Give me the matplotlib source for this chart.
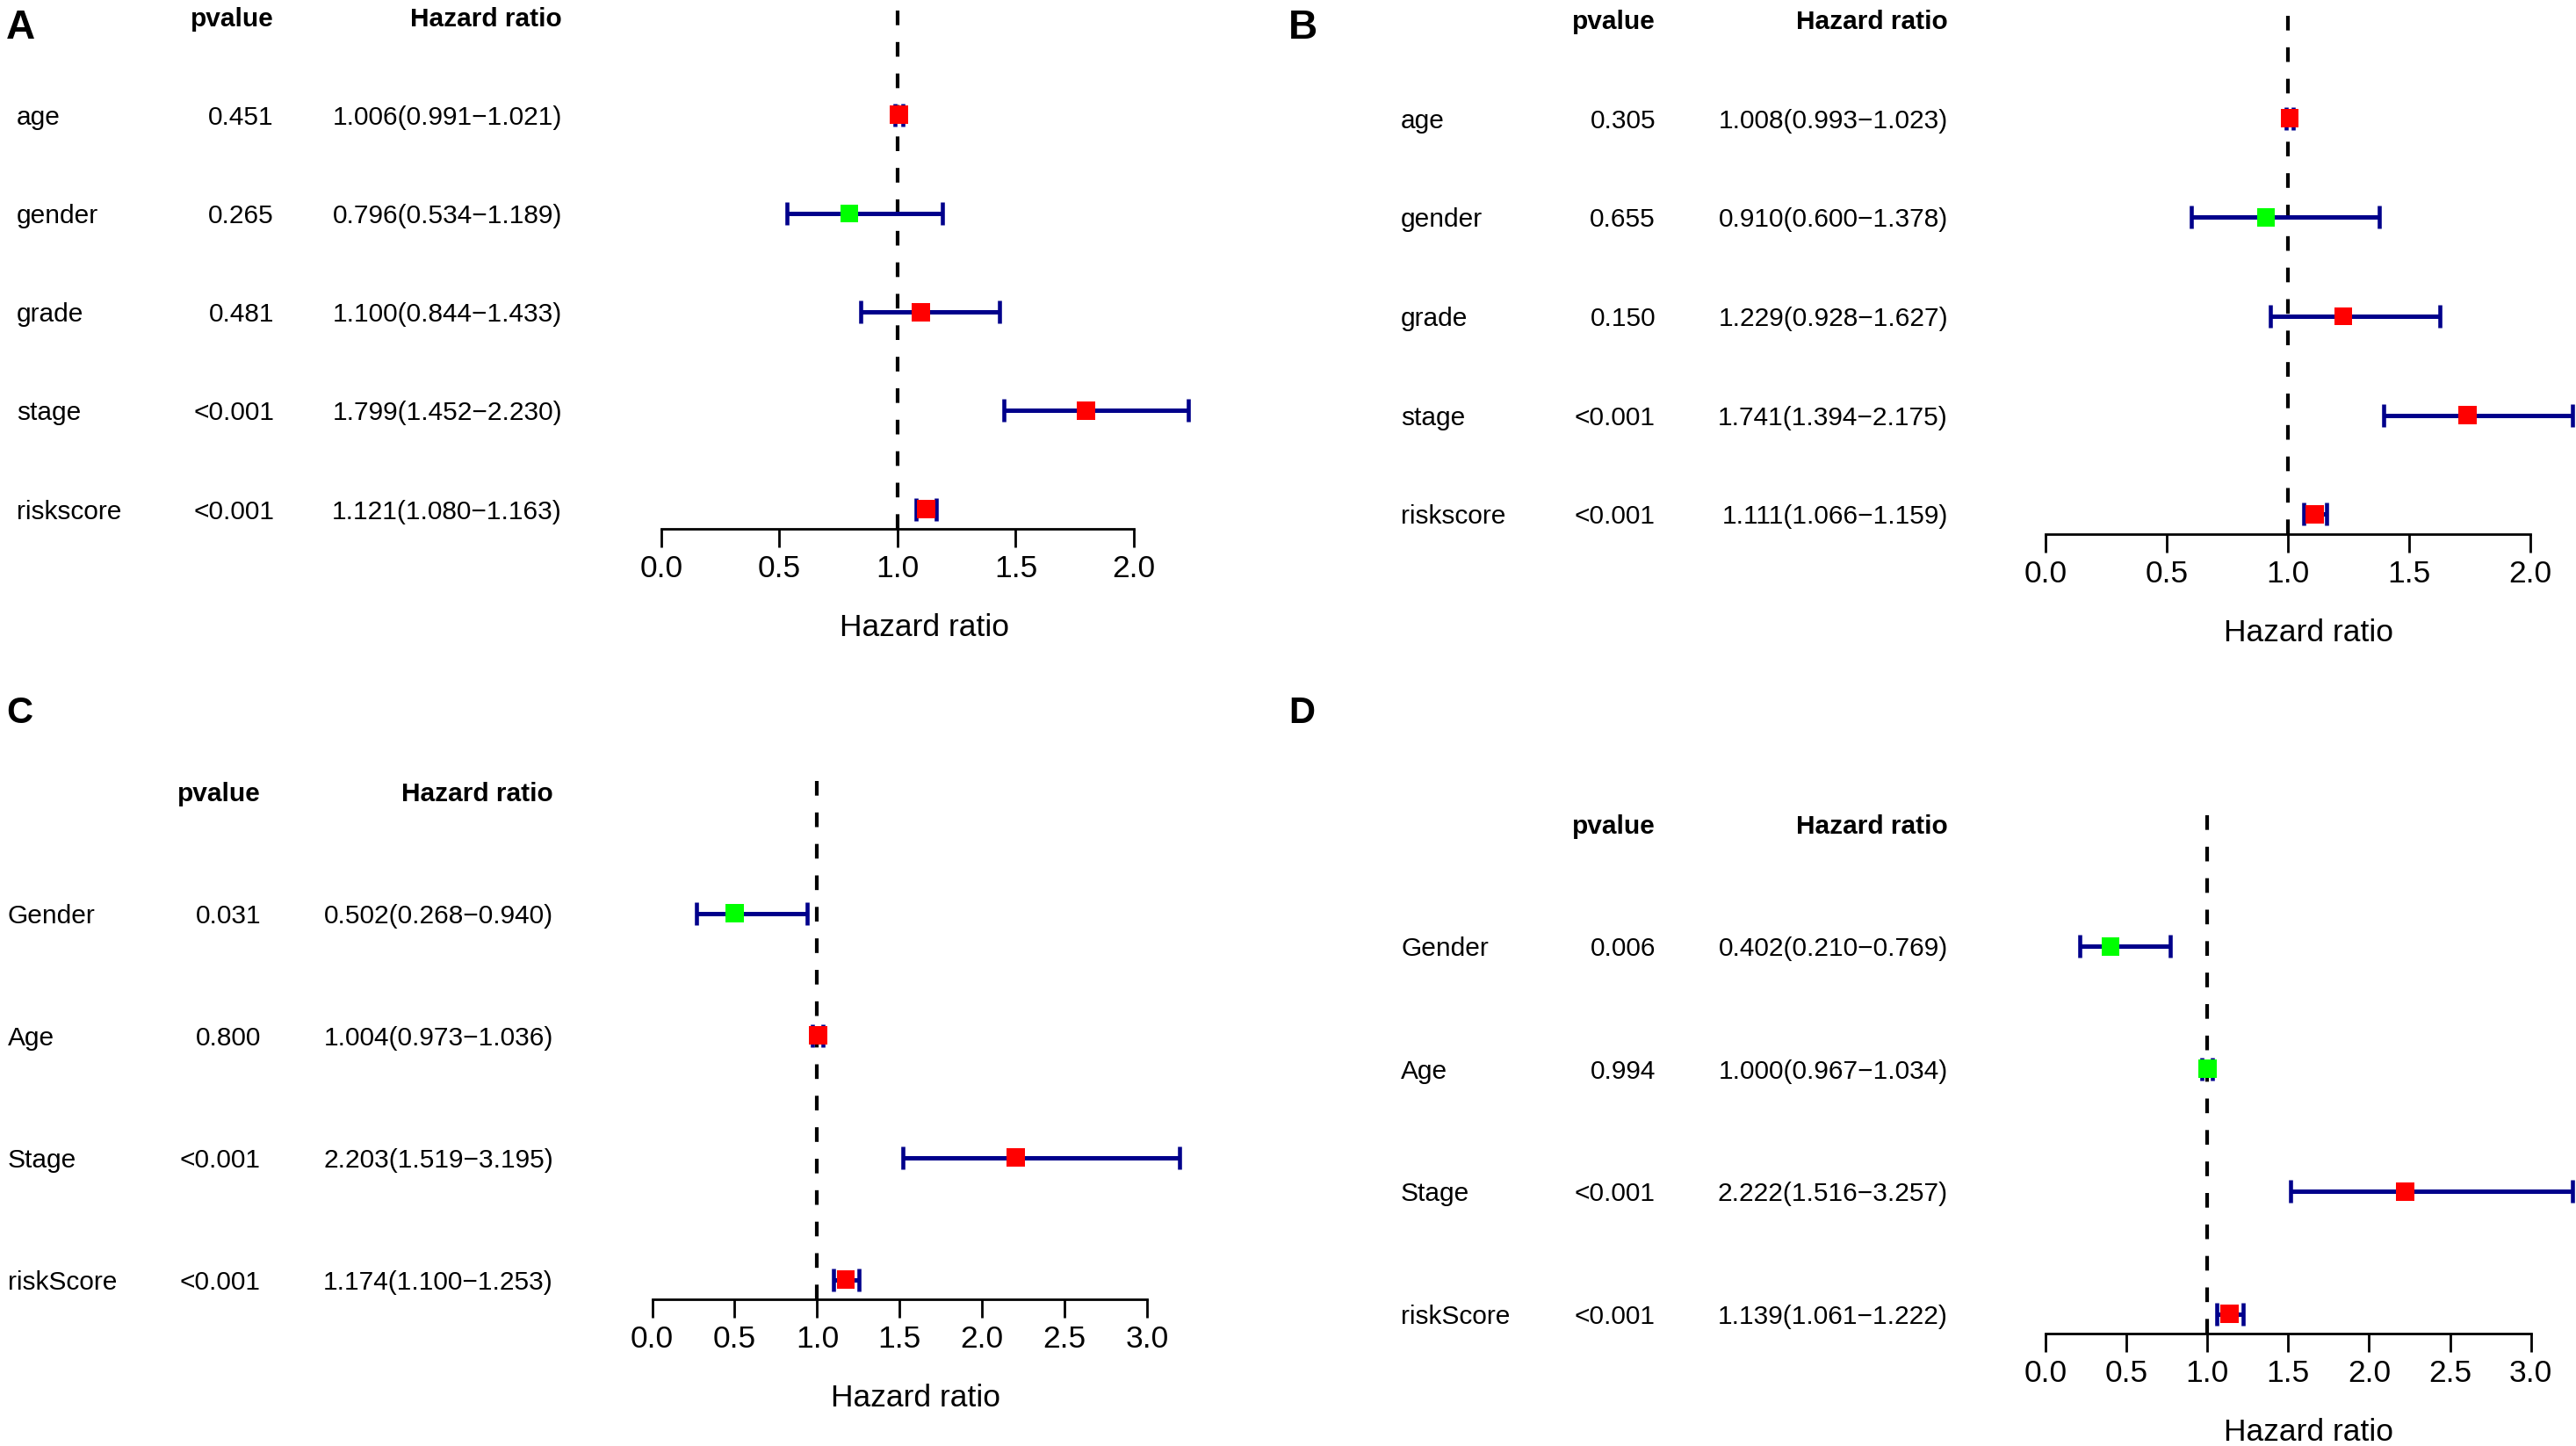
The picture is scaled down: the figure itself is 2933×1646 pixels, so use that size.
import numpy as np
import matplotlib.pyplot as plt
from matplotlib import transforms

plt.rcParams['font.family'] = ['Liberation Sans', 'DejaVu Sans']

W, H = 2933, 1646

# A
a_vars = ['age', 'gender', 'grade', 'stage', 'riskscore']
a_pval = ['0.451', '0.265', '0.481', '<0.001', '<0.001']
a_hr = [1.006, 0.796, 1.100, 1.799, 1.121]
a_low = [0.991, 0.534, 0.844, 1.452, 1.080]
a_high = [1.021, 1.189, 1.433, 2.230, 1.163]

# B
b_vars = ['age', 'gender', 'grade', 'stage', 'riskscore']
b_pval = ['0.305', '0.655', '0.150', '<0.001', '<0.001']
b_hr = [1.008, 0.910, 1.229, 1.741, 1.111]
b_low = [0.993, 0.600, 0.928, 1.394, 1.066]
b_high = [1.023, 1.378, 1.627, 2.175, 1.159]

# C
c_vars = ['Gender', 'Age', 'Stage', 'riskScore']
c_pval = ['0.031', '0.800', '<0.001', '<0.001']
c_hr = [0.502, 1.004, 2.203, 1.174]
c_low = [0.268, 0.973, 1.519, 1.100]
c_high = [0.940, 1.036, 3.195, 1.253]

# D
d_vars = ['Gender', 'Age', 'Stage', 'riskScore']
d_pval = ['0.006', '0.994', '<0.001', '<0.001']
d_hr = [0.402, 1.000, 2.222, 1.139]
d_low = [0.210, 0.967, 1.516, 1.061]
d_high = [0.769, 1.034, 3.257, 1.222]

fig = plt.figure(figsize=(W / 100, H / 100), dpi=100)

TXT = 21.5


def forest(tag, names, pval, hr, low, high, tag_x, tag_y, tag_size,
           name_x, p_x, hr_x, x0, axis_y, row_h):
    n = len(names)
    hr = np.array(hr)
    low = np.array(low)
    high = np.array(high)

    # ylim like R: c(1, n+1) plus 4% on each side
    ymin, ymax = 1 - 0.04 * n, n + 1 + 0.04 * n
    ax_h = (ymax - ymin) * row_h
    ax = fig.add_axes([x0 / W, 1 - axis_y / H, 600 / W, ax_h / H])
    ax.patch.set_visible(False)
    ax.set_xlim(0, high.max())
    ax.set_ylim(ymin, ymax)
    ypos = np.arange(n, 0, -1)

    ax.axvline(1, color='black', lw=3.0, dashes=(4.0, 4.6), zorder=1)
    eb = ax.errorbar(hr, ypos, xerr=[hr - low, high - hr], fmt='none',
                     ecolor='#00008B', elinewidth=3.6, capsize=9.5,
                     capthick=3.3, zorder=2)
    for art in list(eb.lines[1]) + list(eb.lines[2]):
        art.set_clip_on(False)
    colors = np.where(hr > 1, '#FF0000', '#00FF00')
    ax.scatter(hr, ypos, marker='s', s=15 ** 2, c=colors, lw=0,
               zorder=3, clip_on=False)

    ticks = np.arange(0, np.floor(high.max() * 2) / 2 + 0.01, 0.5)
    ax.set_xticks(ticks)
    ax.set_xticklabels(['%.1f' % t for t in ticks])
    ax.set_yticks([])
    for s in ['top', 'right', 'left']:
        ax.spines[s].set_visible(False)
    ax.spines['bottom'].set_bounds(0, ticks[-1])
    ax.spines['bottom'].set_linewidth(2)
    ax.tick_params(axis='x', length=15, width=2, labelsize=25.5, pad=6)

    # table text on the left
    trans = transforms.blended_transform_factory(fig.transFigure, ax.transData)
    for y, name, p, h, lo, hi in zip(ypos, names, pval, hr, low, high):
        ax.text(name_x / W, y, name, transform=trans, ha='left',
                va='center_baseline', fontsize=TXT)
        ax.text(p_x / W, y, p, transform=trans, ha='right',
                va='center_baseline', fontsize=TXT)
        ax.text(hr_x / W, y, '%.3f(%.3f\u2212%.3f)' % (h, lo, hi),
                transform=trans, ha='right', va='center_baseline',
                fontsize=TXT)
    ax.text(p_x / W, n + 1, 'pvalue', transform=trans, ha='right',
            va='center_baseline', fontsize=TXT, fontweight='bold')
    ax.text(hr_x / W, n + 1, 'Hazard ratio', transform=trans, ha='right',
            va='center_baseline', fontsize=TXT, fontweight='bold')

    fig.text((x0 + 300) / W, 1 - (axis_y + 109) / H, 'Hazard ratio',
             ha='center', va='center_baseline', fontsize=25.5)
    fig.text(tag_x / W, 1 - tag_y / H, tag, ha='left', va='top',
             fontsize=tag_size, fontweight='bold')


forest('A', a_vars, a_pval, a_hr, a_low, a_high, 7, 10, 33,
       19, 312, 640, 752.8, 602, 112.2)
forest('B', b_vars, b_pval, b_hr, b_low, b_high, 1467, 10, 33,
       1595, 1885, 2218, 2329, 608, 112.7)
forest('C', c_vars, c_pval, c_hr, c_low, c_high, 7, 792, 30,
       9, 297, 630, 742.6, 1479, 139)
forest('D', d_vars, d_pval, d_hr, d_low, d_high, 1467, 792, 30,
       1595, 1885, 2218, 2329, 1518, 139.5)

fig.savefig('out.png', dpi=100)
